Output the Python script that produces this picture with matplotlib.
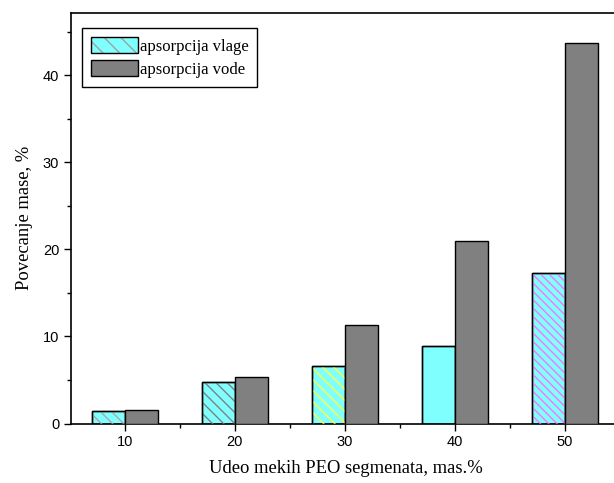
import matplotlib
matplotlib.use("Agg")
from matplotlib import pyplot as plt
from matplotlib.patches import Patch
from matplotlib.legend_handler import HandlerTuple
from matplotlib.ticker import MultipleLocator
import numpy as np

# udeo mekih segmenata, mas.%
udeo = [10, 20, 30, 40, 50]
vlaga = [1.4, 4.75, 6.55, 8.95, 17.3]
voda = [1.55, 5.35, 11.35, 20.95, 43.65]
vlaga_hatch_colors = ["#a8a8a8", "#808080", "#ffff40", None, "#ff70ff"]
vlaga_hatches = ["\\\\\\", "\\\\\\", "\\\\\\", None, "\\\\\\\\"]

serif = "Liberation Serif"
sans = "Liberation Sans"

fig = plt.figure(figsize=(6.14, 4.83), dpi=100)
ax = fig.add_axes([71 / 614, 1 - 423.5 / 483, 548.9 / 614, 410.8 / 483])

x = np.array(udeo)
w = 3.0
ax.bar(x - w / 2, vlaga, width=w, color="#80ffff", edgecolor="black", linewidth=1.0, zorder=2)
# hatch overlay with its own colour per bar
for xi, yi, hc, hp in zip(x, vlaga, vlaga_hatch_colors, vlaga_hatches):
    if hc is None:
        continue
    ax.bar(xi - w / 2, yi, width=w, color="none", edgecolor=hc, hatch=hp, linewidth=0, zorder=3)
ax.bar(x - w / 2, vlaga, width=w, color="none", edgecolor="black", linewidth=1.0, zorder=4)
ax.bar(x + w / 2, voda, width=w, color="#808080", edgecolor="black", linewidth=1.0, zorder=4)

ax.set_xlim(5.1, 55)
ax.set_ylim(0, 47.16)
ax.set_xticks(udeo)
ax.xaxis.set_minor_locator(MultipleLocator(5))
ax.yaxis.set_major_locator(MultipleLocator(10))
ax.yaxis.set_minor_locator(MultipleLocator(5))
ax.tick_params(which="major", direction="out", length=5, width=1.0, labelsize=10.5)
ax.tick_params(which="minor", direction="out", length=3, width=1.0)
for lab in ax.get_xticklabels() + ax.get_yticklabels():
    lab.set_fontfamily(sans)
for s in ax.spines.values():
    s.set_linewidth(1.2)

ax.set_xlabel("Udeo mekih PEO segmenata, mas.%", fontfamily=serif, fontsize=13.4, labelpad=8)
ax.set_ylabel("Povecanje mase, %", fontfamily=serif, fontsize=13.4, labelpad=7)

h_vlaga = (Patch(facecolor="#80ffff", edgecolor="#a0a0a0", hatch="\\\\", linewidth=0),
           Patch(facecolor="none", edgecolor="black", linewidth=1.0))
h_voda = Patch(facecolor="#808080", edgecolor="black", linewidth=1.0)
leg = ax.legend([h_vlaga, h_voda], ["apsorpcija vlage", "apsorpcija vode"],
                handler_map={tuple: HandlerTuple(ndivide=1)},
                loc="upper left", bbox_to_anchor=(82 / 614, 1 - 27.7 / 483),
                bbox_transform=fig.transFigure, borderaxespad=0,
                prop={"family": serif, "size": 12}, fancybox=False,
                edgecolor="black", framealpha=1, handlelength=2.8,
                handleheight=1.15, handletextpad=0.1, labelspacing=0.3,
                borderpad=0.55)
leg.get_frame().set_linewidth(1.0)

fig.savefig("out.png", dpi=100)
